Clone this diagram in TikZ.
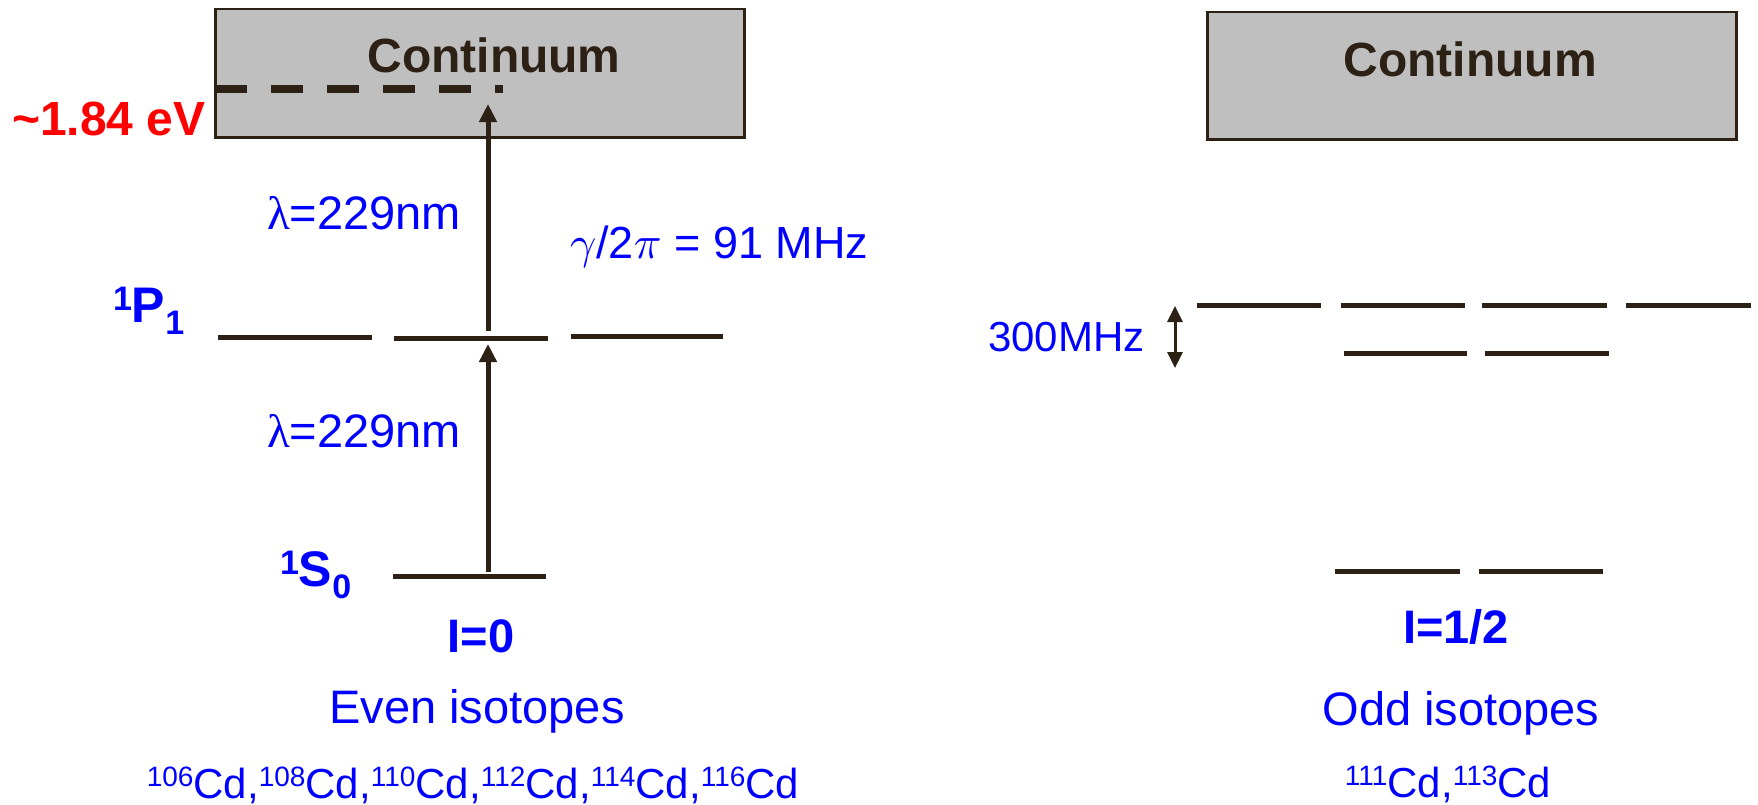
\documentclass[tikz,border=0pt]{standalone}
\usepackage{fontspec}
\setmainfont{Liberation Sans}
\newfontfamily\grk{Liberation Serif}
\usetikzlibrary{arrows.meta}
\definecolor{ink}{RGB}{45,33,22}
\definecolor{lblue}{RGB}{0,0,255}
\definecolor{lred}{RGB}{255,0,0}
\definecolor{boxgray}{RGB}{191,191,191}
\newcommand\fs[1]{\fontsize{#1}{#1}\selectfont}
\newcommand\iso[1]{\raisebox{12pt}{\fs{28}#1}Cd}
\newcommand\bigmath[1]{\scalebox{4.6}{\fs{10}$#1$}}
\begin{document}
\begin{tikzpicture}[x=1pt,y=-1pt,
  lbl/.style={inner sep=0pt, outer sep=0pt, text=lblue},
  level/.style={draw=ink, line width=5pt},
  contbox/.style={draw=ink, line width=2.7pt, fill=boxgray, inner sep=0pt, anchor=north west},
  laser/.style={draw=ink, line width=5pt, -{Triangle[width=17pt,length=18pt]}},
  split/.style={draw=ink, line width=3pt, {Triangle[width=15pt,length=16pt]}-{Triangle[width=15pt,length=16pt]}}]
\useasboundingbox (0,0) rectangle (1758,804);
% continuum boxes
\node[contbox, minimum width=529pt, minimum height=128.5pt] (contL) at (214,7.5) {};
\node[contbox, minimum width=529pt, minimum height=127.3pt] (contR) at (1206,10.7) {};
\node[inner sep=0pt, anchor=base, text=ink, font=\fs{48}\bfseries] (contLt) at (494,72) {Continuum};
\node[inner sep=0pt, anchor=base, text=ink, font=\fs{48}\bfseries] (contRt) at (1470,76.5) {Continuum};
% ionisation threshold
\draw[ink, line width=8pt, dash pattern=on 32pt off 24pt] (215,89) -- (503,89);
\node[inner sep=0pt, anchor=base west, text=lred, font=\fs{48}\bfseries] (ev) at (12,135) {\textasciitilde1.84 eV};
% even isotope levels
\draw[level] (218,337) -- (372,337);
\draw[level] (394,338) -- (548,338);
\draw[level] (571,336) -- (723,336);
\draw[level] (393,576) -- (546,576);
% laser transitions
\coordinate (s0top) at (488,572);
\coordinate (p1bot) at (488,344);
\coordinate (p1top) at (488,331);
\coordinate (ion) at (488,104);
\draw[laser] (s0top) -- (p1bot);
\draw[laser] (p1top) -- (ion);
% labels left
\node[lbl, anchor=base west, font=\fs{47}] (lamU) at (267,229) {{\grk λ}=229nm};
\node[lbl, anchor=base west, font=\fs{47}] (lamL) at (267,447) {{\grk λ}=229nm};
\node[lbl, anchor=base west, font=\fs{45}] (gam) at (570,258) {\bigmath{\gamma}/2\bigmath{\pi} = 91 MHz};
\node[lbl, anchor=base west, font=\fs{50}\bfseries] (p1) at (113,322) {\raisebox{12pt}{\fs{34}1}P\raisebox{-12pt}{\fs{34}1}};
\node[lbl, anchor=base west, font=\fs{50}\bfseries] (s0) at (280,586) {\raisebox{12pt}{\fs{34}1}S\raisebox{-12pt}{\fs{34}0}};
\node[lbl, anchor=base, font=\fs{47}\bfseries] (i0) at (481,652) {I=0};
\node[lbl, anchor=base, font=\fs{47}] (even) at (477,723) {Even isotopes};
\node[lbl, anchor=base, font=\fs{42}] (evenlist) at (473,798) {\iso{106},\iso{108},\iso{110},\iso{112},\iso{114},\iso{116}};
% odd isotope levels
\draw[level] (1197,305) -- (1321,305);
\draw[level] (1341,305) -- (1465,305);
\draw[level] (1482,305) -- (1607,305);
\draw[level] (1626,305) -- (1751,305);
\draw[level] (1344,353) -- (1467,353);
\draw[level] (1485,353) -- (1609,353);
\draw[level] (1335,571) -- (1460,571);
\draw[level] (1479,571) -- (1603,571);
\coordinate (hfsT) at (1175,306);
\coordinate (hfsB) at (1175,368);
\draw[split] (hfsT) -- (hfsB);
\node[lbl, anchor=base west, font=\fs{42}] (mhz) at (988,351) {300MHz};
\node[lbl, anchor=base, font=\fs{47}\bfseries] (ihalf) at (1456,643) {I=1/2};
\node[lbl, anchor=base, font=\fs{47}] (odd) at (1461,725) {Odd isotopes};
\node[lbl, anchor=base, font=\fs{42}] (oddlist) at (1448,797) {\iso{111},\iso{113}};
\end{tikzpicture}
\end{document}
